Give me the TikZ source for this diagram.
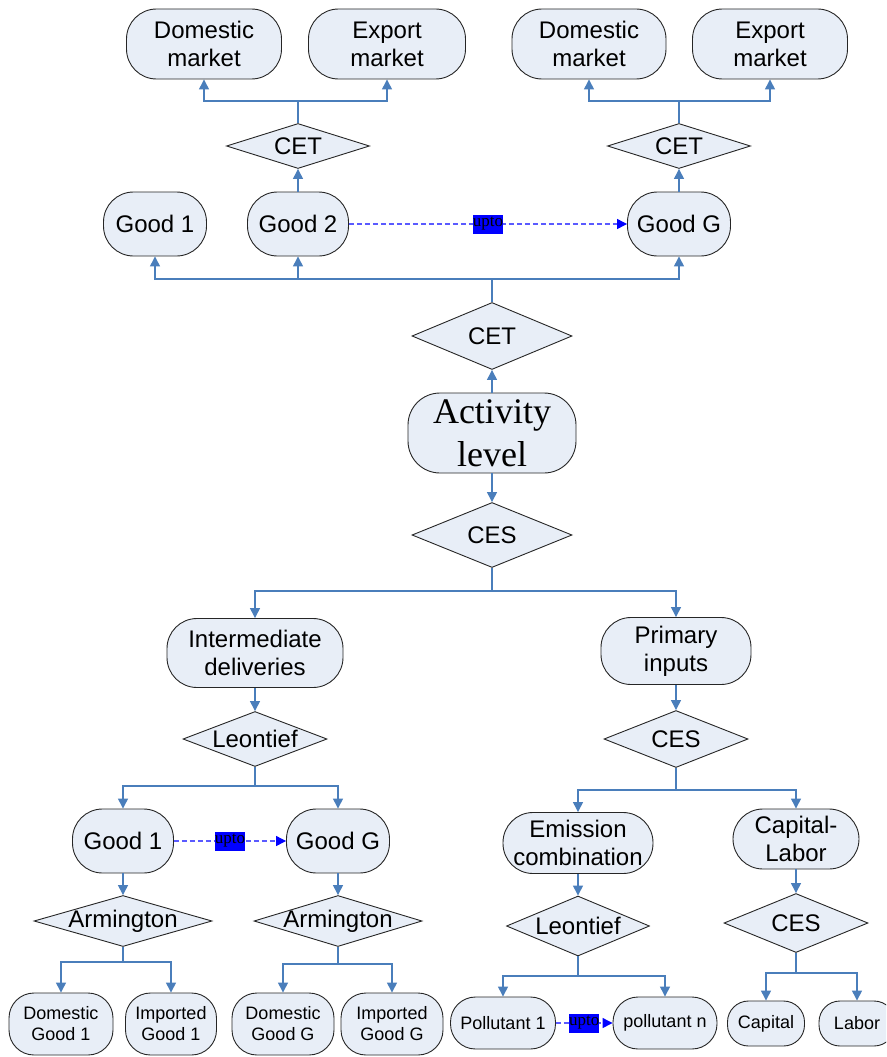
\documentclass[tikz,border=0pt]{standalone}
\usepackage{fontspec}
\setmainfont{Liberation Sans}
\newfontfamily\serifft{Liberation Serif}
\usetikzlibrary{shapes.geometric,arrows.meta}
\definecolor{nodefill}{RGB}{232,238,247}
\definecolor{connblue}{RGB}{74,126,187}
\definecolor{uptoblue}{RGB}{0,0,255}
\definecolor{dashblue}{RGB}{90,90,255}
\tikzset{
  box/.style={draw=black!85, fill=nodefill, rounded corners=30pt, line width=0.9pt,
    align=center, inner sep=0pt, font=\fontsize{24}{28}\selectfont},
  smallbox/.style={box, rounded corners=25pt, font=\fontsize{18}{21}\selectfont},
  dia/.style={draw=black!85, fill=nodefill, diamond, line width=0.9pt, inner sep=0pt},
  every label/.style={font=\fontsize{24}{28}\selectfont, inner sep=0pt},
  conn/.style={draw=connblue, line width=1.3pt, -{Triangle[length=10pt,width=10pt]}},
  dashconn/.style={draw=dashblue, line width=1.2pt, dash pattern=on 5pt off 3pt,
    -{Triangle[length=10pt,width=10pt,color=uptoblue]}},
  uptolbl/.style={fill=uptoblue, text=black, font=\serifft\fontsize{17}{17}\selectfont,
    inner sep=0pt, minimum width=30pt, minimum height=19pt}
}
\begin{document}
\begin{tikzpicture}[x=1pt,y=-1pt]
\useasboundingbox (0,0) rectangle (886,1057);
\clip (0,0) rectangle (886,1057);

% bus levels
\coordinate (busTop) at (0,101);
\coordinate (busGoods) at (0,279);
\coordinate (busMain) at (0,591);
\coordinate (busInter) at (0,786);
\coordinate (busPrim) at (0,790);
\coordinate (busArmL) at (0,962);
\coordinate (busArmR) at (0,964);
\coordinate (busLeoR) at (0,976);
\coordinate (busCesB) at (0,973);

% top markets
\node[box, minimum width=155pt, minimum height=70pt] (domL) at (204,44) {Domestic\\market};
\node[box, minimum width=157pt, minimum height=70pt] (exL) at (387,44) {Export\\market};
\node[box, minimum width=154pt, minimum height=70pt] (domR) at (589,44) {Domestic\\market};
\node[box, minimum width=155pt, minimum height=70pt] (exR) at (770,44) {Export\\market};

\node[dia, minimum width=143pt, minimum height=45pt, label=center:CET] (cetL) at (298,146) {};
\node[dia, minimum width=143pt, minimum height=45pt, label=center:CET] (cetR) at (679,146) {};

% goods
\node[box, minimum width=103pt, minimum height=64pt] (good1) at (155,224) {Good 1};
\node[box, minimum width=101pt, minimum height=64pt] (good2) at (298,224) {Good 2};
\node[box, minimum width=103pt, minimum height=64pt] (goodG) at (679,224) {Good G};

% main column
\node[dia, minimum width=160pt, minimum height=67pt, label=center:CET] (cetM) at (492,336) {};
\node[box, rounded corners=32pt, minimum width=168pt, minimum height=80pt,
  font=\serifft\fontsize{36}{43}\selectfont] (act) at (492,433) {Activity\\level};
\node[dia, minimum width=160pt, minimum height=65pt, label=center:CES] (cesM) at (492,535) {};

% second level
\node[box, minimum width=176pt, minimum height=69pt] (inter) at (255,653) {Intermediate\\deliveries};
\node[box, minimum width=150pt, minimum height=67pt] (prim) at (676,651) {Primary\\inputs};
\node[dia, minimum width=144pt, minimum height=55pt, label=center:Leontief] (leoL) at (255,739) {};
\node[dia, minimum width=144pt, minimum height=57pt, label=center:CES] (cesR) at (676,739) {};

% third level
\node[box, minimum width=101pt, minimum height=64pt] (g1L) at (123,841) {Good 1};
\node[box, minimum width=103pt, minimum height=64pt] (gGL) at (338,841) {Good G};
\node[box, minimum width=150pt, minimum height=61pt] (emis) at (578,843) {Emission\\combination};
\node[box, minimum width=126pt, minimum height=60pt] (capl) at (796,839) {Capital-\\Labor};

\node[dia, minimum width=178pt, minimum height=51pt, label=center:Armington] (armL) at (123,921) {};
\node[dia, minimum width=168pt, minimum height=51pt, label=center:Armington] (armR) at (338,921) {};
\node[dia, minimum width=143pt, minimum height=60pt, label=center:Leontief] (leoR) at (578,926) {};
\node[dia, minimum width=144pt, minimum height=59pt, label=center:CES] (cesB) at (796,923) {};

% bottom row
\node[smallbox, minimum width=104pt, minimum height=62pt] (domG1) at (61,1024) {Domestic\\Good 1};
\node[smallbox, minimum width=91pt, minimum height=62pt] (impG1) at (171,1024) {Imported\\Good 1};
\node[smallbox, minimum width=102pt, minimum height=62pt] (domGG) at (283,1024) {Domestic\\Good G};
\node[smallbox, minimum width=102pt, minimum height=62pt] (impGG) at (392,1024) {Imported\\Good G};
\node[smallbox, minimum width=105pt, minimum height=52pt] (pol1) at (503,1023) {Pollutant 1};
\node[smallbox, minimum width=104pt, minimum height=52pt] (poln) at (665,1023) {pollutant n};
\node[smallbox, rounded corners=21pt, minimum width=77pt, minimum height=45pt] (cap) at (766,1023.5) {Capital};
\node[smallbox, rounded corners=21pt, minimum width=76pt, minimum height=45pt] (lab) at (857,1023.5) {Labor};

% connectors: top
\draw[conn] (cetL.north) -- (cetL.north |- busTop) -| (domL.south);
\draw[conn] (cetL.north |- busTop) -| (exL.south);
\draw[conn] (cetR.north) -- (cetR.north |- busTop) -| (domR.south);
\draw[conn] (cetR.north |- busTop) -| (exR.south);
\draw[conn] (good2.north) -- (cetL.south);
\draw[conn] (goodG.north) -- (cetR.south);

\draw[conn] (cetM.north) -- (cetM.north |- busGoods) -| (good1.south);
\draw[conn] (cetM.north |- busGoods) -| (good2.south);
\draw[conn] (cetM.north |- busGoods) -| (goodG.south);
\draw[conn] (act.north) -- (cetM.south);
\draw[conn] (act.south) -- (cesM.north);

\draw[conn] (cesM.south) -- (cesM.south |- busMain) -| (inter.north);
\draw[conn] (cesM.south |- busMain) -| (prim.north);
\draw[conn] (inter.south) -- (leoL.north);
\draw[conn] (prim.south) -- (cesR.north);

\draw[conn] (leoL.south) -- (leoL.south |- busInter) -| (g1L.north);
\draw[conn] (leoL.south |- busInter) -| (gGL.north);
\draw[conn] (cesR.south) -- (cesR.south |- busPrim) -| (emis.north);
\draw[conn] (cesR.south |- busPrim) -| (capl.north);

\draw[conn] (g1L.south) -- (armL.north);
\draw[conn] (gGL.south) -- (armR.north);
\draw[conn] (emis.south) -- (leoR.north);
\draw[conn] (capl.south) -- (cesB.north);

\draw[conn] (armL.south) -- (armL.south |- busArmL) -| (domG1.north);
\draw[conn] (armL.south |- busArmL) -| (impG1.north);
\draw[conn] (armR.south) -- (armR.south |- busArmR) -| (domGG.north);
\draw[conn] (armR.south |- busArmR) -| (impGG.north);
\draw[conn] (leoR.south) -- (leoR.south |- busLeoR) -| (pol1.north);
\draw[conn] (leoR.south |- busLeoR) -| (poln.north);
\draw[conn] (cesB.south) -- (cesB.south |- busCesB) -| (cap.north);
\draw[conn] (cesB.south |- busCesB) -| (lab.north);

% dashed "upto" connectors
\draw[dashconn] (good2.east) -- node[uptolbl] (upto1) {upto} (goodG.west);
\draw[dashconn] (g1L.east) -- node[uptolbl] (upto2) {upto} (gGL.west);
\draw[dashconn] (pol1.east) -- node[uptolbl] (upto3) {upto} (poln.west);
\end{tikzpicture}
\end{document}
